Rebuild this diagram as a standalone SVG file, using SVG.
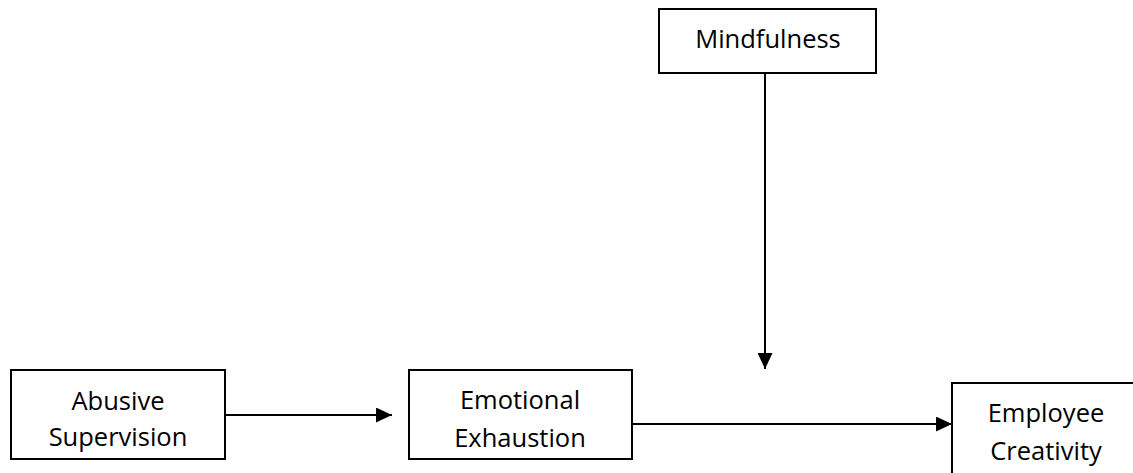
<svg xmlns="http://www.w3.org/2000/svg" width="1133" height="473" viewBox="0 0 1133 473">
<style>
.box{fill:#fff;stroke:#000;stroke-width:2}
.t{font-family:"Open Sans","Liberation Sans",sans-serif;font-size:25.5px;fill:#000;text-anchor:middle}
.c{stroke:#000;stroke-width:2;fill:none}
</style>
<defs>
<marker id="ah" viewBox="0 0 16 15" refX="16" refY="7.5" markerWidth="16" markerHeight="15" markerUnits="userSpaceOnUse" orient="auto">
<path d="M0,0 L16,7.5 L0,15 Z" fill="#000"/>
</marker>
</defs>
<rect width="1133" height="473" fill="#fff"/>
<g id="mindfulness">
<rect class="box" x="659" y="9" width="217" height="64"/>
<text class="t" x="768" y="48">Mindfulness</text>
</g>
<g id="abusive">
<rect class="box" x="11" y="370" width="214" height="89"/>
<text class="t" x="118" y="410">Abusive</text>
<text class="t" x="118" y="446">Supervision</text>
</g>
<g id="emotional">
<rect class="box" x="409" y="370" width="223" height="89"/>
<text class="t" x="520" y="409">Emotional</text>
<text class="t" x="520" y="447">Exhaustion</text>
</g>
<g id="employee">
<rect class="box" x="952" y="383" width="200" height="100"/>
<text class="t" x="1046" y="422">Employee</text>
<text class="t" x="1046" y="460">Creativity</text>
</g>
<g id="connectors">
<line class="c" x1="225" y1="415" x2="392" y2="415" marker-end="url(#ah)"/>
<line class="c" x1="632" y1="424" x2="952" y2="424" marker-end="url(#ah)"/>
<line class="c" x1="765" y1="73" x2="765" y2="369" marker-end="url(#ah)"/>
</g>
</svg>
